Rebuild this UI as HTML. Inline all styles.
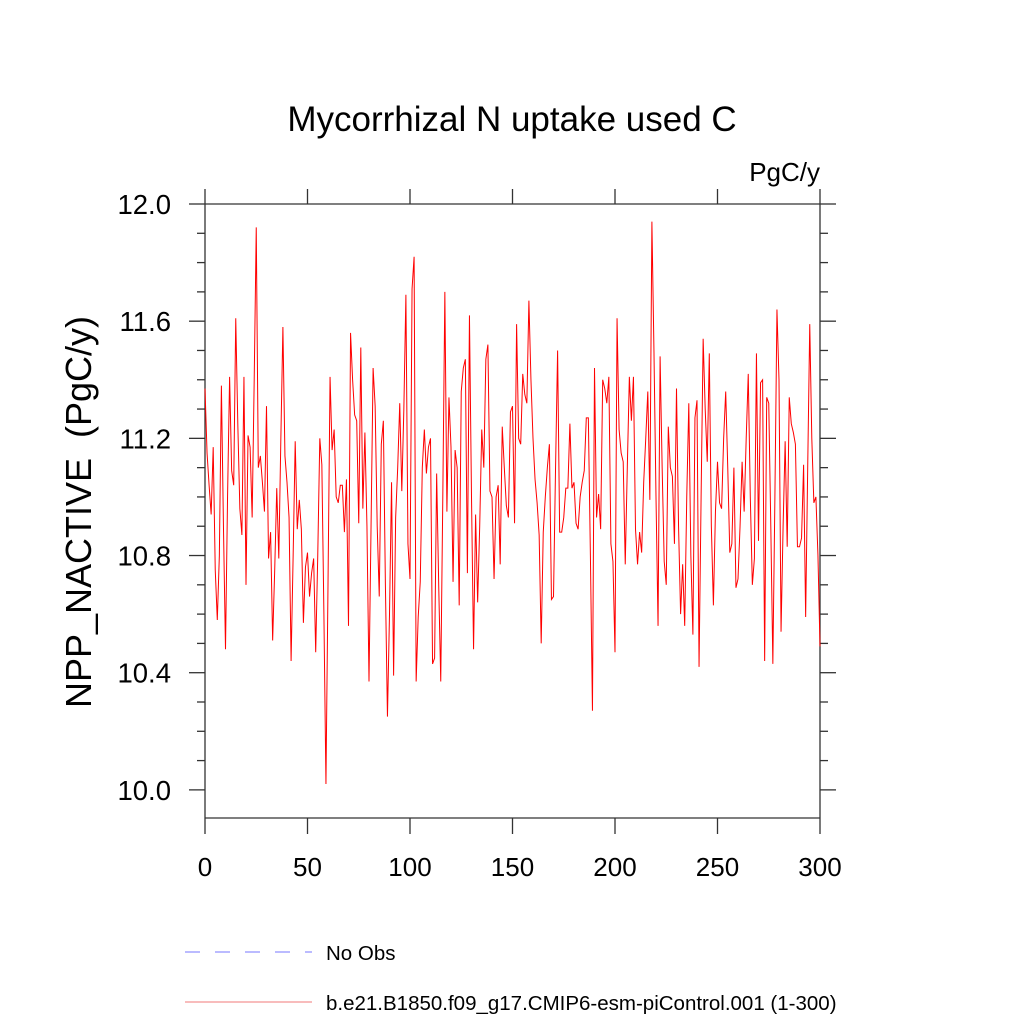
<!DOCTYPE html>
<html><head><meta charset="utf-8"><style>
html,body{margin:0;padding:0;background:#fff;}
svg{display:block;font-family:"Liberation Sans",sans-serif;}
</style></head><body>
<svg id="chart" width="1024" height="1024" viewBox="0 0 1024 1024">
<text x="512" y="131" font-size="35" text-anchor="middle">Mycorrhizal N uptake used C</text>
<text x="820" y="181" font-size="26" text-anchor="end">PgC/y</text>
<text transform="translate(91,512) rotate(-90)" font-size="36" text-anchor="middle" xml:space="preserve" style="white-space:pre">NPP_NACTIVE  (PgC/y)</text>
<g id="axes"></g>
<g id="series"></g>
<g>
<line x1="185" y1="952" x2="312" y2="952" stroke="#7777ff" stroke-width="1" stroke-dasharray="15,15"/>
<text x="326" y="960" font-size="20.5">No Obs</text>
<line x1="185" y1="1002" x2="312" y2="1002" stroke="#f07878" stroke-width="1"/>
<text x="326" y="1010" font-size="20.5">b.e21.B1850.f09_g17.CMIP6-esm-piControl.001 (1-300)</text>
</g>
</svg>
<script>
const xTicks = [0,50,100,150,200,250,300];
const yTicks = [10.0,10.4,10.8,11.2,11.6,12.0];
const yTickLabels = ["10.0","10.4","10.8","11.2","11.6","12.0"];
const values = [
11.37,11.15,11.04,10.94,11.17,10.75,10.58,10.80,11.38,10.9,
10.48,11.0,11.41,11.09,11.04,11.61,11.25,10.96,10.87,11.41,
10.70,11.21,11.17,10.93,11.4,11.92,11.10,11.14,11.05,10.95,
11.31,10.79,10.88,10.51,10.75,11.03,10.79,11.2,11.58,11.14,
11.05,10.93,10.44,10.8,11.19,10.89,10.99,10.89,10.57,10.76,
10.81,10.66,10.74,10.79,10.47,10.8,11.20,11.11,10.6,10.02,
10.7,11.41,11.16,11.23,11.0,10.98,11.04,11.04,10.88,11.06,
10.56,11.56,11.4,11.28,11.26,10.91,11.51,10.96,11.22,10.9,
10.37,10.9,11.44,11.31,10.9,10.66,11.18,11.26,10.7,10.25,
10.6,11.05,10.39,10.93,11.1,11.32,11.02,11.3,11.69,10.84,
10.72,11.71,11.82,10.37,10.59,10.71,11.10,11.23,11.08,11.17,
11.20,10.43,10.45,11.08,10.7,10.37,11.0,11.70,10.95,11.34,
11.17,10.71,11.16,11.10,10.63,11.36,11.44,11.47,10.74,11.62,
11.0,10.48,10.94,10.64,10.9,11.23,11.10,11.47,11.52,11.02,
11.00,10.72,11.00,11.04,10.77,11.24,11.1,10.97,10.93,11.29,
11.31,10.91,11.59,11.2,11.18,11.42,11.35,11.32,11.67,11.4,
11.2,11.06,10.98,10.87,10.50,10.88,11.0,11.1,11.18,10.65,
10.66,11.1,11.50,10.88,10.88,10.93,11.03,11.03,11.25,11.03,
11.05,10.91,10.89,11.0,11.05,11.09,11.27,11.27,10.8,10.27,
11.44,10.93,11.01,10.89,11.40,11.37,11.32,11.41,10.84,10.78,
10.47,11.61,11.23,11.15,11.12,10.77,11.1,11.41,11.26,11.41,
10.89,10.77,10.88,10.81,11.05,11.2,11.36,10.99,11.94,11.5,
11.0,10.56,11.48,11.1,10.78,10.70,11.24,11.1,11.07,10.84,
11.37,10.9,10.60,10.77,10.56,11.0,11.32,10.8,10.53,11.27,
11.33,10.42,11.0,11.54,11.3,11.12,11.49,10.9,10.63,10.95,
11.12,10.98,10.96,11.2,11.36,11.1,10.81,10.84,11.10,10.69,
10.72,10.9,11.12,10.95,11.2,11.42,11.0,10.70,10.79,11.49,
10.85,11.39,11.40,10.44,11.34,11.32,10.9,10.43,11.0,11.64,
11.4,10.54,10.9,11.19,10.83,11.34,11.25,11.22,11.18,10.83,
10.83,10.86,11.11,10.59,11.1,11.59,11.2,10.98,11.00,10.8,
10.49
];
const X0=205,X1=820,Y0=204,Y1=818,xMin=0,xMax=300,yMin=9.904,yMax=12.0;
function xs(v){return X0+(v-xMin)/(xMax-xMin)*(X1-X0);}
function ys(v){return Y1-(v-yMin)/(yMax-yMin)*(Y1-Y0);}
const NS="http://www.w3.org/2000/svg";
const axes=document.getElementById('axes');
function ln(x1,y1,x2,y2,name,w){
  const l=document.createElementNS(NS,'line');
  l.setAttribute('x1',x1);l.setAttribute('y1',y1);l.setAttribute('x2',x2);l.setAttribute('y2',y2);
  l.setAttribute('stroke','#333');l.setAttribute('stroke-width',w||1.3);
  
  
  axes.appendChild(l);return l;
}
function tx(x,y,s,anchor,name,fs){
  const t=document.createElementNS(NS,'text');
  t.setAttribute('x',x);t.setAttribute('y',y);t.setAttribute('font-size',fs);t.setAttribute('text-anchor',anchor);
  t.textContent=s;
  
  
  axes.appendChild(t);
}
ln(X0,Y0,X1,Y0,'frame-top');ln(X0,Y1,X1,Y1,'frame-bottom');
ln(X0,Y0,X0,Y1,'frame-left');ln(X1,Y0,X1,Y1,'frame-right');
for(let i=0;i<xTicks.length;i++){
  const x=xs(xTicks[i]);
  ln(x,Y1,x,Y1+16,'x-tick');
  ln(x,Y0,x,Y0-15,'x-tick-top');
  tx(x,876,String(xTicks[i]),'middle','x-tick-label','26');
}
for(let v=10.0;v<=12.001;v+=0.1){
  const y=ys(v);
  const major=Math.abs(Math.round(v*10)%4)===0;
  const L=major?16:8;
  ln(X0-L,y,X0,y,major?'y-tick':'y-minor-tick');
  ln(X1,y,X1+L,y,major?'y-tick-right':'y-minor-tick-right');
}
for(let i=0;i<yTicks.length;i++){
  tx(171,ys(yTicks[i])+10,yTickLabels[i],'end','y-tick-label','27.5');
}
const series=document.getElementById('series');
const p=document.createElementNS(NS,'polyline');
p.setAttribute('points',values.map((v,i)=>xs(i).toFixed(2)+','+ys(v).toFixed(2)).join(' '));
p.setAttribute('fill','none');p.setAttribute('stroke','#ff0000');p.setAttribute('stroke-width','1');


series.appendChild(p);
</script>
</body></html>
